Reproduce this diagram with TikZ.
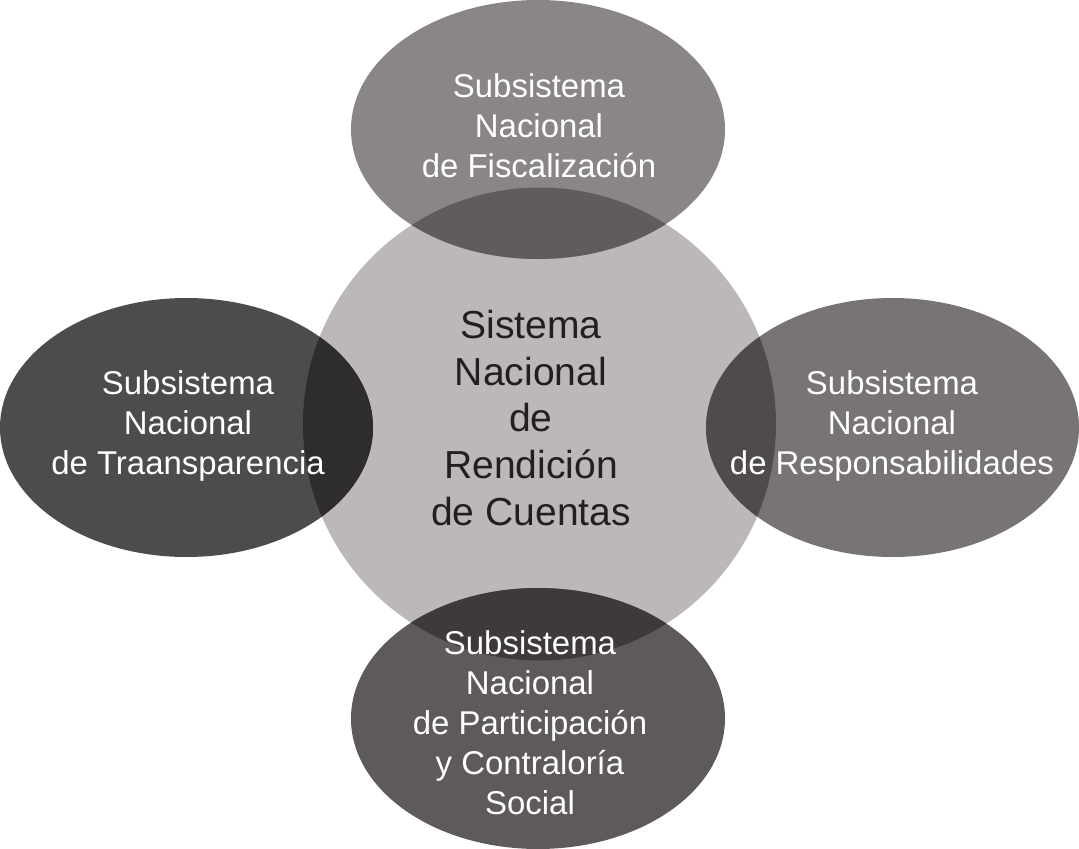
\documentclass[tikz,border=0pt]{standalone}
\usepackage{fontspec}
\setmainfont{Liberation Sans}
\definecolor{cmain}{HTML}{BCB8B8}
\definecolor{ctop}{HTML}{8B8686}
\definecolor{ctopo}{HTML}{625B5B}
\definecolor{cleft}{HTML}{4E4B4B}
\definecolor{clefto}{HTML}{2F2C2C}
\definecolor{cright}{HTML}{787474}
\definecolor{crighto}{HTML}{4F4B4B}
\definecolor{cbot}{HTML}{5F5A5A}
\definecolor{cboto}{HTML}{3E3A3A}
\definecolor{ctext}{HTML}{231F20}
\tikzset{
  subtext/.style={text=white, align=center, font=\fontsize{24.7}{30}\selectfont, inner sep=0pt},
  maintext/.style={text=ctext, align=center, font=\fontsize{29.3}{35.2}\selectfont, inner sep=0pt}
}
\begin{document}
\begin{tikzpicture}[x=0.75pt,y=-0.75pt]
\useasboundingbox (0,0) rectangle (1079,849);
% shapes
\fill[cmain] (539.5,424) circle[radius=236.5];
\fill[ctop] (538,129.5) ellipse[x radius=187, y radius=129.5];
\fill[cleft] (186.5,427.5) ellipse[x radius=186.5, y radius=129.5];
\fill[cright] (892.5,427.5) ellipse[x radius=186.5, y radius=129.5];
\fill[cbot] (538,718.5) ellipse[x radius=187, y radius=130.5];
\begin{scope}
  \clip (539.5,424) circle[radius=236.5];
  \fill[ctopo] (538,129.5) ellipse[x radius=187, y radius=129.5];
  \fill[clefto] (186.5,427.5) ellipse[x radius=186.5, y radius=129.5];
  \fill[crighto] (892.5,427.5) ellipse[x radius=186.5, y radius=129.5];
  \fill[cboto] (538,718.5) ellipse[x radius=187, y radius=130.5];
\end{scope}
% texts
\node[maintext] (main) at (531,418) {Sistema\\Nacional\\de\\Rendición\\de Cuentas};
\node[subtext] (top) at (539,126) {Subsistema\\Nacional\\de Fiscalización};
\node[subtext] (left) at (188,426) {Subsistema\\Nacional\\de Traansparencia};
\node[subtext] (right) at (892,426) {Subsistema\\Nacional\\de Responsabilidades};
\node[subtext] (bot) at (530,723) {Subsistema\\Nacional\\de Participación\\y Contraloría\\Social};
\end{tikzpicture}
\end{document}
